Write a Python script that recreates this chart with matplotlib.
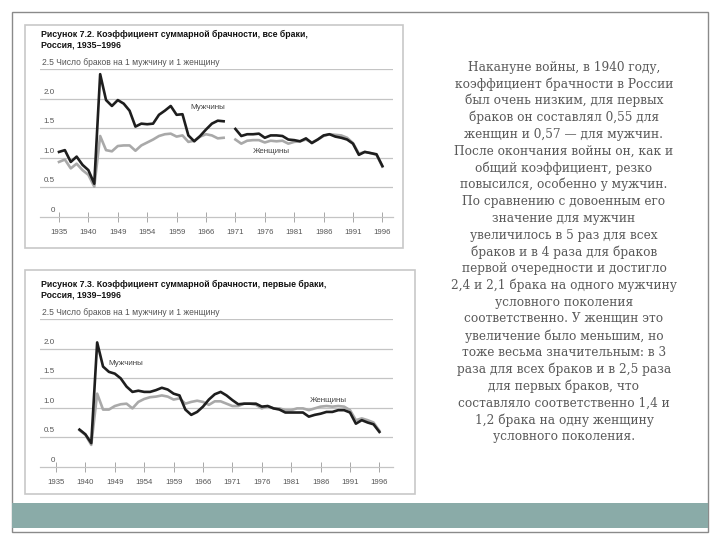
import numpy as np
import matplotlib
matplotlib.use("Agg")
import matplotlib.pyplot as plt
from matplotlib.patches import Rectangle

W, H = 720, 540
nan = np.nan

# x axis: one slot per year, war years compressed, label every 5 slots
tick_labels = ['1935', '1940', '1949', '1954', '1959', '1966',
               '1971', '1976', '1981', '1986', '1991', '1996']

# Fig 7.2 - all marriages (slots 0..55, gap at slot 29)
men_all = [1.10, 1.13, 0.93, 1.02, 0.88, 0.79, 0.56, 2.42, 1.98, 1.88,
           1.98, 1.92, 1.80, 1.53, 1.58, 1.57, 1.58, 1.73, 1.80, 1.88,
           1.73, 1.74, 1.38, 1.28, 1.37, 1.48, 1.58, 1.63, 1.62, nan,
           1.49, 1.37, 1.40, 1.40, 1.41, 1.34, 1.38, 1.38, 1.37, 1.31,
           1.30, 1.28, 1.33, 1.25, 1.31, 1.38, 1.40, 1.36, 1.34, 1.31,
           1.24, 1.05, 1.10, 1.08, 1.06, 0.86]
women_all = [0.93, 0.97, 0.82, 0.90, 0.79, 0.71, 0.51, 1.37, 1.13, 1.11,
             1.20, 1.21, 1.21, 1.12, 1.21, 1.26, 1.31, 1.37, 1.40, 1.41,
             1.36, 1.38, 1.27, 1.29, 1.36, 1.40, 1.38, 1.33, 1.34, nan,
             1.31, 1.24, 1.29, 1.30, 1.30, 1.26, 1.29, 1.28, 1.29, 1.24,
             1.27, 1.28, 1.31, 1.26, 1.31, 1.37, 1.40, 1.39, 1.38, 1.34,
             1.25, 1.07, 1.10, 1.08, 1.05, 0.85]

# Fig 7.3 - first marriages (starts 1939, slot 4)
men_first = [nan, nan, nan, nan,
             0.63, 0.55, 0.40, 2.11, 1.70, 1.61, 1.58, 1.50, 1.36, 1.27,
             1.29, 1.27, 1.27, 1.30, 1.34, 1.31, 1.24, 1.21, 0.97, 0.88,
             0.93, 1.02, 1.14, 1.23, 1.27, 1.21, 1.13, 1.06, 1.07, 1.07,
             1.07, 1.02, 1.03, 0.99, 0.97, 0.92, 0.92, 0.92, 0.92, 0.85,
             0.88, 0.90, 0.93, 0.93, 0.96, 0.96, 0.92, 0.73, 0.79, 0.75,
             0.72, 0.59]
women_first = [nan, nan, nan, nan,
               0.62, 0.54, 0.37, 1.24, 0.97, 0.97, 1.03, 1.06, 1.07, 0.99,
               1.10, 1.15, 1.18, 1.19, 1.21, 1.19, 1.14, 1.16, 1.07, 1.10,
               1.12, 1.10, 1.05, 1.11, 1.11, 1.07, 1.03, 1.03, 1.07, 1.07,
               1.05, 0.99, 1.03, 0.99, 0.99, 0.96, 0.96, 0.99, 0.99, 0.96,
               0.99, 1.02, 1.03, 1.02, 1.03, 1.02, 0.96, 0.79, 0.82, 0.79,
               0.75, 0.61]

text_lines = [
    "Накануне войны, в 1940 году,",
    "коэффициент брачности в России",
    "был очень низким, для первых",
    "браков он составлял 0,55 для",
    "женщин и 0,57 — для мужчин.",
    "После окончания войны он, как и",
    "общий коэффициент, резко",
    "повысился, особенно у мужчин.",
    "По сравнению с довоенным его",
    "значение для мужчин",
    "увеличилось в 5 раз для всех",
    "браков и в 4 раза для браков",
    "первой очередности и достигло",
    "2,4 и 2,1 брака на одного мужчину",
    "условного поколения",
    "соответственно. У женщин это",
    "увеличение было меньшим, но",
    "тоже весьма значительным: в 3",
    "раза для всех браков и в 2,5 раза",
    "для первых браков, что",
    "составляло соответственно 1,4 и",
    "1,2 брака на одну женщину",
    "условного поколения.",
]

SANS = 'Liberation Sans'
GRID = '#c4c4c4'
LABEL = '#555555'


def px_axes(fig, x0, y0, x1, y1):
    return fig.add_axes([x0 / W, 1 - y1 / H, (x1 - x0) / W, (y1 - y0) / H])


fig = plt.figure(figsize=(7.2, 5.4), dpi=100)
fig.patch.set_facecolor('white')

# background layer in pixel coordinates
bg = px_axes(fig, 0, 0, W, H)
bg.set_xlim(0, W)
bg.set_ylim(H, 0)
bg.axis('off')
bg.add_patch(Rectangle((12, 12), 696, 520, fill=False, ec='#8a8a8a', lw=1.0))
bg.add_patch(Rectangle((12, 503), 696, 25, fc='#8aaba8', ec='none'))
bg.add_patch(Rectangle((25, 25), 378, 223, fill=False, ec='#c8c8c8', lw=1.2))
bg.add_patch(Rectangle((25, 270), 390, 224, fill=False, ec='#c8c8c8', lw=1.2))

for i, line in enumerate(text_lines):
    bg.text(564, 67 + i * 16.8, line, ha='center', va='center',
            fontsize=8.7, family='DejaVu Serif', color='#5a5a5a')


def draw_chart(y_zero, slot0_px, title1, title2, men, women, men_lbl, women_lbl):
    ppu = 58.9  # pixels per unit
    spx = 5.88  # pixels per slot
    top = y_zero - 2.5 * ppu
    ax = px_axes(fig, 40, top, 393, y_zero)
    ax.patch.set_alpha(0)
    ax.set_xlim((40 - slot0_px) / spx, (393 - slot0_px) / spx)
    ax.set_ylim(0, 2.5)
    for s in ['top', 'right', 'left']:
        ax.spines[s].set_visible(False)
    ax.spines['bottom'].set_color(GRID)
    ax.spines['bottom'].set_linewidth(0.9)
    for v in [0.5, 1.0, 1.5, 2.0, 2.5]:
        ax.axhline(v, color=GRID, lw=0.9, zorder=1)
    ax.set_yticks([])
    ax.set_xticks(range(0, 56, 5))
    ax.set_xticklabels(tick_labels, fontsize=5.6, family=SANS, color=LABEL)
    ax.tick_params(axis='x', direction='inout', length=7, width=0.6,
                   color='#999999', pad=5)

    x = np.arange(len(men))
    ax.plot(x, women, color='#a9a9a9', lw=1.9, zorder=3, clip_on=False)
    ax.plot(x, men, color='#1e1e1e', lw=1.9, zorder=4, clip_on=False)

    for v, s in [(0, '0'), (0.5, '0.5'), (1.0, '1.0'), (1.5, '1.5'), (2.0, '2.0')]:
        ax.text(55, y_zero - v * ppu - 6.5, s, transform=bg.transData,
                ha='right', va='center', fontsize=5.8, family=SANS, color=LABEL)
    ax.text(42, top - 7, '2.5 Число браков на 1 мужчину и 1 женщину',
            transform=bg.transData, ha='left', va='center',
            fontsize=6.15, family=SANS, color=LABEL)
    ax.text(41, top - 34.5, title1, transform=bg.transData, ha='left',
            va='center', fontsize=6.3, family=SANS, weight='bold', color='#111111')
    ax.text(41, top - 24.5, title2, transform=bg.transData, ha='left',
            va='center', fontsize=6.3, family=SANS, weight='bold', color='#111111')

    ax.text(men_lbl[0], men_lbl[1], 'Мужчины', ha='left', va='center',
            fontsize=5.8, family=SANS, color='#444444')
    ax.text(women_lbl[0], women_lbl[1], 'Женщины', ha='left', va='center',
            fontsize=5.8, family=SANS, color='#444444')


draw_chart(216.7, 59,
           'Рисунок 7.2. Коэффициент суммарной брачности, все браки,',
           'Россия, 1935–1996',
           men_all, women_all, (22.3, 1.85), (33.0, 1.10))
draw_chart(466.7, 56,
           'Рисунок 7.3. Коэффициент суммарной брачности, первые браки,',
           'Россия, 1939–1996',
           men_first, women_first, (8.9, 1.76), (43.2, 1.13))

fig.savefig('out.png', dpi=100, facecolor='white')
